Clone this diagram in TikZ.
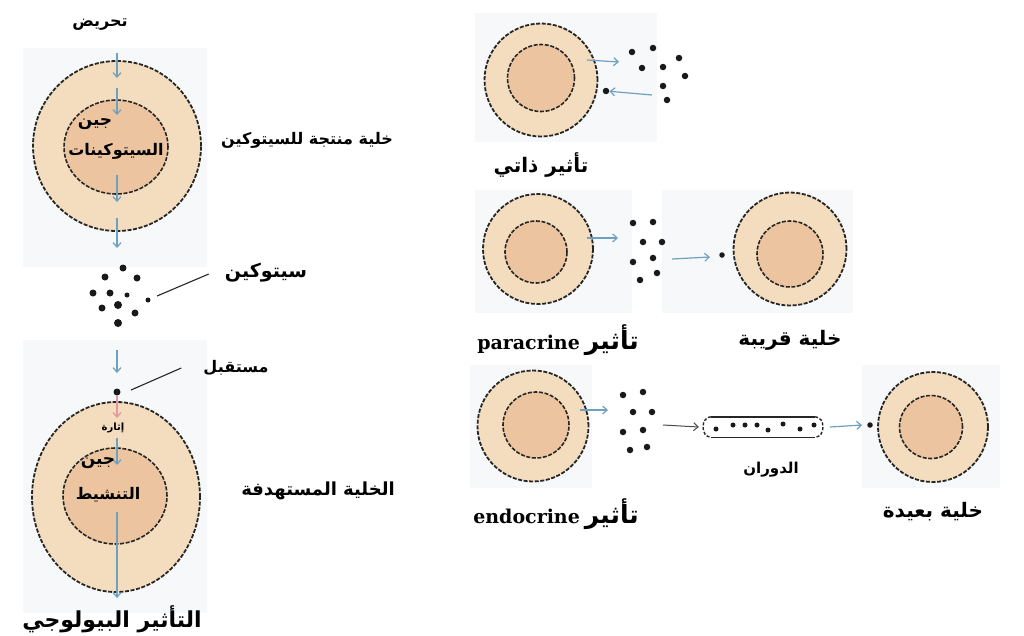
\documentclass[tikz,border=0pt]{standalone}
\usepackage{fontspec}
\usetikzlibrary{arrows.meta,shapes.geometric}
\TeXXeTstate=1
\newfontfamily\arabicfont[Script=Arabic]{DejaVu Sans}
\newfontfamily\slabfont{DejaVu Serif}
\newcommand\AR[1]{{\arabicfont\bfseries\beginR #1\endR}}
\definecolor{cyto}{RGB}{243,221,190}
\definecolor{nuc}{RGB}{236,197,160}
\definecolor{panel}{RGB}{247,248,250}
\definecolor{flow}{RGB}{110,160,192}
\definecolor{trig}{RGB}{228,150,162}
\tikzset{
  cellpaint/.style={fill=cyto, draw=black!85, line width=1.8pt, dash pattern=on 4pt off 1.6pt, inner sep=0pt},
  nucpaint/.style={fill=nuc, draw=black!85, line width=1.6pt, dash pattern=on 4pt off 1.6pt, inner sep=0pt},
  molecule/.style={circle, fill=black!90, inner sep=0pt, minimum size=#1},
  molecule/.default=6pt,
  flowarrow/.style={draw=flow, line width=1.2pt, -{Straight Barb[length=4.5pt,width=8pt]}},
  plainarrow/.style={draw=black!70, line width=1pt, -{Straight Barb[length=4.5pt,width=8pt]}},
  trigarrow/.style={draw=trig, line width=1.3pt, -{Straight Barb[length=4.5pt,width=8pt]}},
  pointer/.style={draw=black!85, line width=1.1pt},
  txt/.style={inner sep=0pt, font=\fontsize{#1}{#1}\selectfont},
}
\begin{document}
\begin{tikzpicture}[x=1pt,y=-1pt]
\useasboundingbox (0,0) rectangle (1024,635);
\fill[white] (0,0) rectangle (1024,635);

% light panels behind the cell sketches
\fill[panel] (23,48) rectangle (207,267);
\fill[panel] (23,340) rectangle (207,613);
\fill[panel] (475,13) rectangle (657,142);
\fill[panel] (475,190) rectangle (632,313);
\fill[panel] (662,190) rectangle (853,313);
\fill[panel] (470,365) rectangle (592,488);
\fill[panel] (862,365) rectangle (1000,488);

% ---------- cytokine-producing cell ----------
\node[txt=16] (stim) at (100,25) {\AR{تحريض}};
\node[cellpaint, ellipse, minimum width=168pt, minimum height=170pt] (prodcell) at (117,146) {};
\node[nucpaint, ellipse, minimum width=104pt, minimum height=94pt] (prodnuc) at (116,147) {};
\coordinate (pa1) at (117,53);  \coordinate (pb1) at (117,78);
\coordinate (pa2) at (117,88);  \coordinate (pb2) at (117,115);
\coordinate (pa3) at (117,175); \coordinate (pb3) at (117,202);
\coordinate (pa4) at (117,218); \coordinate (pb4) at (117,248);
\draw[flowarrow] (pa1) -- (pb1);
\draw[flowarrow] (pa2) -- (pb2);
\draw[flowarrow] (pa3) -- (pb3);
\draw[flowarrow] (pa4) -- (pb4);
\node[txt=17] (prodgeneA) at (95,124) {\AR{جين}};
\node[txt=16] (prodgeneB) at (116,151) {\AR{السيتوكينات}};
\node[txt=16] (prodlbl) at (307,140) {\AR{خلية منتجة للسيتوكين}};

% secreted cytokines
\node[molecule=7pt] (m1) at (123,268) {};
\node[molecule=7pt] (m2) at (105,277) {};
\node[molecule=7pt] (m3) at (137,278) {};
\node[molecule=7pt] (m4) at (93,293) {};
\node[molecule=7pt] (m5) at (110,293) {};
\node[molecule=5pt] (m6) at (127,295) {};
\node[molecule=5pt] (m7) at (148,300) {};
\node[molecule=7pt] (m8) at (102,308) {};
\node[molecule=8pt] (m9) at (118,305) {};
\node[molecule=7pt] (m10) at (135,313) {};
\node[molecule=8pt] (m11) at (118,323) {};
\node[txt=19] (cytolbl) at (266,273) {\AR{سيتوكين}};
\coordinate (cytotip) at (157,296);
\draw[pointer] ([xshift=-16pt,yshift=-1pt]cytolbl.west) -- (cytotip);

% ---------- target cell ----------
\coordinate (ta0) at (117,350); \coordinate (tb0) at (117,373);
\draw[flowarrow] (ta0) -- (tb0);
\node[cellpaint, ellipse, minimum width=168pt, minimum height=190pt] (tgtcell) at (116,497) {};
\node[nucpaint, ellipse, minimum width=104pt, minimum height=96pt] (tgtnuc) at (115,496) {};
\node[molecule=7pt] (rcpt) at (117,392) {};
\coordinate (tt) at (117,418);
\draw[trigarrow] (rcpt) -- (tt);
\node[txt=10] (trigger) at (113,428) {\AR{إثارة}};
\coordinate (ta1) at (117,438); \coordinate (tb1) at (117,465);
\draw[flowarrow] (ta1) -- (tb1);
\coordinate (ta2) at (117,512); \coordinate (tb2) at (117,598);
\draw[flowarrow] (ta2) -- (tb2);
\node[txt=17] (actgeneA) at (98,463) {\AR{جين}};
\node[txt=16] (actgeneB) at (108,495) {\AR{التنشيط}};
\node[txt=16] (rcptlbl) at (236,368) {\AR{مستقبل}};
\coordinate (rcpttip) at (131,390);
\draw[pointer] ([xshift=-22pt]rcptlbl.west) -- (rcpttip);
\node[txt=18] (targetlbl) at (318,491) {\AR{الخلية المستهدفة}};
\node[txt=22] (biolbl) at (112,619) {\AR{التأثير البيولوجي}};

% ---------- autocrine ----------
\node[cellpaint, circle, minimum size=113pt] (autocell) at (541,80) {};
\node[nucpaint, circle, minimum size=67pt] (autonuc) at (541,78) {};
\coordinate (aa1) at (587,60); \coordinate (ab1) at (619,62);
\draw[flowarrow] (aa1) -- (ab1);
\node[molecule=6.5pt] (autorc) at (606,91) {};
\coordinate (aa2) at (652,95);
\draw[flowarrow] (aa2) -- (autorc);
\node[molecule=6.5pt] (am1) at (632,52) {};
\node[molecule=6.5pt] (am2) at (653,48) {};
\node[molecule=6.5pt] (am3) at (679,58) {};
\node[molecule=6.5pt] (am4) at (642,68) {};
\node[molecule=6.5pt] (am5) at (663,67) {};
\node[molecule=6.5pt] (am6) at (685,76) {};
\node[molecule=6.5pt] (am7) at (663,86) {};
\node[molecule=6.5pt] (am8) at (667,100) {};
\node[txt=20] (autolbl) at (541,165) {\AR{تأثير ذاتي}};

% ---------- paracrine ----------
\node[cellpaint, circle, minimum size=110pt] (parasrc) at (538,249) {};
\node[nucpaint, circle, minimum size=62pt] (parasrcnuc) at (536,252) {};
\coordinate (pp1) at (587,238); \coordinate (pq1) at (618,238);
\draw[flowarrow] (pp1) -- (pq1);
\node[molecule=6.5pt] (pm1) at (633,223) {};
\node[molecule=6.5pt] (pm2) at (653,222) {};
\node[molecule=6.5pt] (pm3) at (643,242) {};
\node[molecule=6.5pt] (pm4) at (662,242) {};
\node[molecule=6.5pt] (pm5) at (633,262) {};
\node[molecule=6.5pt] (pm6) at (653,258) {};
\node[molecule=6.5pt] (pm7) at (657,273) {};
\node[molecule=6.5pt] (pm8) at (640,280) {};
\node[cellpaint, circle, minimum size=113pt] (paratgt) at (790,249) {};
\node[nucpaint, circle, minimum size=66pt] (paratgtnuc) at (790,254) {};
\node[molecule=5.5pt] (pararc) at (722,255) {};
\coordinate (pp2) at (672,259); \coordinate (pq2) at (710,257);
\draw[flowarrow] (pp2) -- (pq2);
\node[inner sep=0pt, anchor=east] (paralbl) at (639,340)
  {\fontsize{19}{19}\selectfont\slabfont\bfseries paracrine\hspace{5pt}{\fontsize{25}{25}\selectfont\AR{تأثير}}};
\node[txt=20] (nearlbl) at (790,340) {\AR{خلية قريبة}};

% ---------- endocrine ----------
\node[cellpaint, circle, minimum size=111pt] (endosrc) at (533,426) {};
\node[nucpaint, circle, minimum size=66pt] (endosrcnuc) at (536,425) {};
\coordinate (ep1) at (580,410); \coordinate (eq1) at (608,410);
\draw[flowarrow] (ep1) -- (eq1);
\node[molecule=6.5pt] (em1) at (623,395) {};
\node[molecule=6.5pt] (em2) at (643,392) {};
\node[molecule=6.5pt] (em3) at (633,412) {};
\node[molecule=6.5pt] (em4) at (652,412) {};
\node[molecule=6.5pt] (em5) at (623,432) {};
\node[molecule=6.5pt] (em6) at (643,430) {};
\node[molecule=6.5pt] (em7) at (630,450) {};
\node[molecule=6.5pt] (em8) at (647,447) {};
% blood vessel carrying the hormone
\node[inner sep=0pt, minimum width=122pt, minimum height=20pt] (vessel) at (763,427) {};
\draw[black!85, line width=1.4pt] ([xshift=9pt]vessel.north west) -- ([xshift=-9pt]vessel.north east);
\draw[black!85, line width=1.4pt] ([xshift=9pt]vessel.south west) -- ([xshift=-9pt]vessel.south east);
\draw[black!85, line width=1.4pt, dash pattern=on 3pt off 1.8pt]
  ([xshift=9pt]vessel.north west) to[out=180,in=180,looseness=1.3] ([xshift=9pt]vessel.south west);
\draw[black!85, line width=1.4pt, dash pattern=on 3pt off 1.8pt]
  ([xshift=-9pt]vessel.north east) to[out=0,in=0,looseness=1.3] ([xshift=-9pt]vessel.south east);
\node[molecule=5pt] (vm1) at (716,429) {};
\node[molecule=5pt] (vm2) at (733,425) {};
\node[molecule=5pt] (vm3) at (745,425) {};
\node[molecule=5pt] (vm4) at (757,425) {};
\node[molecule=5pt] (vm5) at (768,430) {};
\node[molecule=5pt] (vm6) at (783,424) {};
\node[molecule=5pt] (vm7) at (800,429) {};
\node[molecule=5pt] (vm8) at (814,425) {};
\coordinate (ep2) at (663,425);
\draw[plainarrow] (ep2) -- ([xshift=-3pt]vessel.west);
\node[cellpaint, circle, minimum size=110pt] (endotgt) at (933,427) {};
\node[nucpaint, circle, minimum size=63pt] (endotgtnuc) at (931,427) {};
\node[molecule=5.5pt] (endorc) at (870,425) {};
\coordinate (eq3) at (862,425);
\draw[flowarrow] ([xshift=6pt]vessel.east) -- (eq3);
\node[txt=15] (circlbl) at (771,470) {\AR{الدوران}};
\node[inner sep=0pt, anchor=east] (endolbl) at (639,514)
  {\fontsize{19}{19}\selectfont\slabfont\bfseries endocrine\hspace{5pt}{\fontsize{25}{25}\selectfont\AR{تأثير}}};
\node[txt=20] (farlbl) at (933,512) {\AR{خلية بعيدة}};
\end{tikzpicture}
\end{document}
